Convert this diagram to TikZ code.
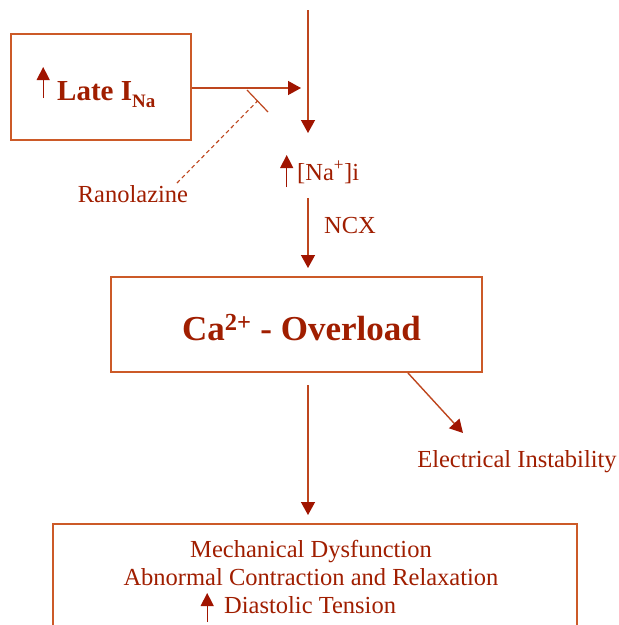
\documentclass[tikz,border=0pt]{standalone}
\usepackage{fontspec}
\setmainfont{Liberation Serif}
\usetikzlibrary{arrows.meta}
\definecolor{boxc}{RGB}{204,90,40}
\definecolor{linec}{RGB}{190,70,30}
\definecolor{headc}{RGB}{160,20,0}
\definecolor{txtc}{RGB}{160,30,0}
% #1 = offset of bottom from baseline (positive = above), #2 = top above baseline
\newcommand{\uparr}[2]{\tikz[baseline=0pt,x=1pt,y=1pt]{\path (-6.5,0) -- (6.5,0);\draw[headc,line width=1.3pt,-{Triangle[length=13pt,width=13pt,fill=headc]}] (0,#1) -- (0,#2);}}
\tikzset{
  boxn/.style={draw=boxc,line width=1.4pt,rectangle,inner sep=0pt},
  txt/.style={text=txtc,font=\fontsize{24.5}{29}\selectfont,inner sep=0pt},
  conn/.style={draw=linec,line width=1.4pt,-{Triangle[length=13pt,width=14pt,fill=headc,color=headc]}},
  plainline/.style={draw=linec,line width=1.4pt},
}
\begin{document}
\begin{tikzpicture}[x=1pt,y=-1pt]
\useasboundingbox (0,0) rectangle (619,625);
\fill[white] (0,0) rectangle (619,625);
% Late I_Na box
\node[boxn,minimum width=180pt,minimum height=106pt] (late) at (101,87) {};
\node[txt,font=\fontsize{29}{34}\selectfont\bfseries,anchor=base west] (latetxt) at (36.5,100) {\uparr{2}{33}\hspace{7.5pt}Late I\raisebox{-7pt}{\fontsize{19}{22}\selectfont\bfseries Na}};
% top line
\coordinate (top) at (308,10);
\coordinate (topend) at (308,133);
\coordinate (join) at (301,88);
\draw[conn] (top) -- (topend);
\draw[conn] (late.east |- join) -- (join);
% inhibition bar
\coordinate (barA) at (247,90);
\coordinate (barB) at (268,112);
\coordinate (barM) at (257.5,101);
\draw[plainline,line width=1.2pt] (barA) -- (barB);
\node[txt,anchor=base] (ran) at (133,202) {Ranolazine};
\coordinate (ranstart) at (177,183);
\draw[plainline,line width=1.1pt,dash pattern=on 4pt off 3pt] (ranstart) -- (barM);
% Na node
\node[txt,anchor=base west] (na) at (280,180) {\uparr{-7}{25}\hspace{4pt}[Na\textsuperscript{+}]i};
\coordinate (nastart) at (308,198);
\coordinate (naend) at (308,268);
\draw[conn] (nastart) -- (naend);
\node[txt,anchor=base] (ncx) at (350,233) {NCX};
% Ca box
\node[boxn,minimum width=371pt,minimum height=95pt] (ca) at (296.5,324.5) {};
\node[txt,font=\fontsize{35}{40}\selectfont\bfseries,anchor=base] (catxt) at (301.5,340) {Ca\textsuperscript{2+} - Overload};
% down arrow to bottom box
\coordinate (castart) at (308,385);
\coordinate (caend) at (308,515);
\draw[conn] (castart) -- (caend);
% diagonal arrow
\coordinate (dstart) at (408,373);
\coordinate (dend) at (463,433);
\draw[conn] (dstart) -- (dend);
\node[txt,anchor=base] (elec) at (517,467) {Electrical Instability};
% bottom box (cut off)
\draw[boxn] (53,640) -- (53,524) -- (577,524) -- (577,640);
\node[txt,anchor=base] (m1) at (311,557) {Mechanical Dysfunction};
\node[txt,anchor=base] (m2) at (311,585) {Abnormal Contraction and Relaxation};
\node[txt,anchor=base west] (m3) at (200.5,613) {\uparr{-9}{20}\hspace{10.5pt}Diastolic Tension};
\end{tikzpicture}
\end{document}
